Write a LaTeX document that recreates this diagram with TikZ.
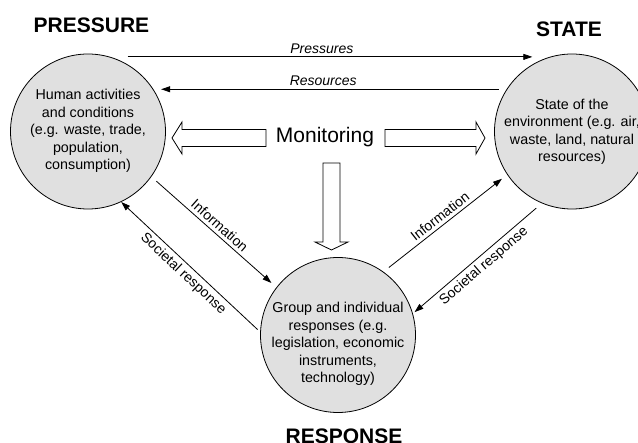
\documentclass[tikz,border=0pt]{standalone}
\usepackage{fontspec}
\setmainfont{Liberation Sans}
\usetikzlibrary{arrows.meta}

\tikzset{
  stage/.style={shape=circle, draw=black, fill=black!12, line width=0.8pt,
    minimum size=155pt, inner sep=0pt, outer sep=7pt},
  stagetext/.style={align=center, font=\fontsize{14.3}{17.5}\selectfont},
  title/.style={font=\fontsize{21}{24}\selectfont\bfseries},
  flow/.style={line width=0.8pt, -{Triangle[length=9pt,width=6pt]}},
  flowlabel/.style={font=\fontsize{14}{16}\selectfont},
  hollow/.style={draw=black, fill=white, line width=0.8pt}
}

\begin{document}
\begin{tikzpicture}[x=1pt,y=-1pt]
  \useasboundingbox (0,0) rectangle (638,443);
  \clip (0,0) rectangle (638,443);

  % the three stages
  \node[stage] (P) at (88,131.5) {};
  \node[stage] (S) at (572,131.5) {};
  \node[stage] (R) at (338,335) {};

  \node[stagetext] (Ptext) at (88,131) {Human activities\\and conditions\\(e.g. waste, trade,\\population,\\consumption)};
  \node[stagetext] (Stext) at (572,132) {State of the\\environment (e.g. air,\\waste, land, natural\\resources)};
  \node[stagetext] (Rtext) at (338,344) {Group and individual\\responses (e.g.\\legislation, economic\\instruments,\\technology)};

  \node[title] (Ptitle) at (91.5,25.5) {PRESSURE};
  \node[title] (Stitle) at (569,29.5) {STATE};
  \node[title] (Rtitle) at (344,436.5) {RESPONSE};

  % monitoring
  \node[font=\fontsize{21}{24}\selectfont] (M) at (325,137) {Monitoring};
  \draw[hollow] (172,138) -- (182,122) -- (182,129.5) -- (266,129.5) -- (266,146.5)
    -- (182,146.5) -- (182,154) -- cycle;
  \draw[hollow] (485,138) -- (476,122) -- (476,129.5) -- (385,129.5) -- (385,146.5)
    -- (476,146.5) -- (476,154) -- cycle;
  \draw[hollow] (331.5,250) -- (315,242) -- (323,242) -- (323,163) -- (340,163)
    -- (340,242) -- (348,242) -- cycle;

  % flows
  \path [flow] (P.62) edge node[flowlabel, above, pos=0.48] {\itshape Pressures} (S.118);
  \path [flow] (S.150) edge node[flowlabel, above, pos=0.52] {\itshape Resources} (P.30);
  \path [flow] (P.-36) edge node[flowlabel, above, sloped] {Information} (R.142);
  \path [flow, shorten <=-5pt, shorten >=-7pt] (R.174) edge node[flowlabel, below, sloped] {Societal response} (P.-63);
  \path [flow] (R.53) edge node[flowlabel, above, sloped] {Information} (S.-146);
  \path [flow, shorten >=-5pt] (S.-115) edge node[flowlabel, below, sloped] {Societal response} (R.18);
\end{tikzpicture}
\end{document}
